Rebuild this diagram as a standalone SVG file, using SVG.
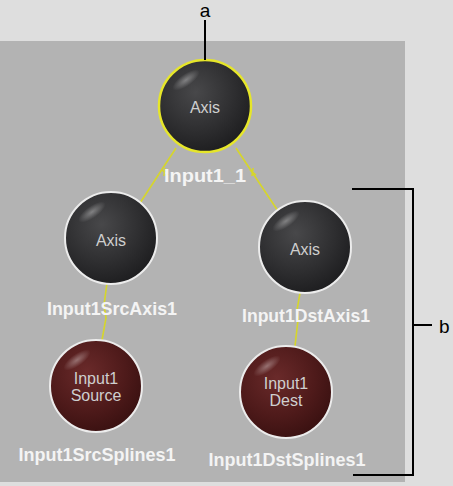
<svg xmlns="http://www.w3.org/2000/svg" width="453" height="486" viewBox="0 0 453 486">
<defs>
<radialGradient id="gDark" cx="0.4" cy="0.35" r="0.7">
<stop offset="0" stop-color="#48484a"/>
<stop offset="0.6" stop-color="#2e2e30"/>
<stop offset="1" stop-color="#1c1c1e"/>
</radialGradient>
<radialGradient id="gRed" cx="0.4" cy="0.35" r="0.7">
<stop offset="0" stop-color="#6a2a2a"/>
<stop offset="0.6" stop-color="#4e1a1a"/>
<stop offset="1" stop-color="#381010"/>
</radialGradient>
<radialGradient id="gHi" cx="0.5" cy="0.5" r="0.5">
<stop offset="0" stop-color="#ffffff" stop-opacity="0.35"/>
<stop offset="1" stop-color="#ffffff" stop-opacity="0"/>
</radialGradient>
<style>
.ball{stroke:#ececec;stroke-width:2}
.sel{stroke:#e6e62a;stroke-width:2.5}
.in{font-family:"Liberation Sans",Arial,sans-serif;font-size:16px;fill:#cfcfcf;text-anchor:middle}
.lbl{font-family:"Liberation Sans",Arial,sans-serif;font-size:18px;font-weight:bold;fill:#f4f4f4;text-anchor:middle}
.conn{stroke:#d6d62a;stroke-width:1.6;fill:none}
.call{stroke:#000;stroke-width:2;fill:none}
.ct{font-family:"Liberation Sans",Arial,sans-serif;font-size:19px;fill:#000}
</style>
</defs>
<rect x="0" y="0" width="453" height="486" fill="#dedede"/>
<rect x="0" y="41" width="405" height="441" fill="#b3b3b3"/>
<g id="connectors">
<line class="conn" x1="176" y1="148" x2="140" y2="203"/>
<line class="conn" x1="236" y1="148" x2="278" y2="211"/>
<path class="conn" d="M162,170 l6,5 M165,168 l-1,8"/>
<path class="conn" d="M250,170 l6,5 M253,168 l-1,8"/>
<path class="conn" d="M107,283 L104,305 L106,318 L102,340"/>
<path class="conn" d="M300,293 L297,310 L298,320 L295,346"/>
</g>
<g id="node-axis-top">
<circle class="ball sel" cx="205" cy="106" r="46" fill="url(#gDark)"/>
<ellipse cx="186" cy="80" rx="16" ry="6" fill="url(#gHi)" transform="rotate(-35 186 80)"/>
<text class="in" x="205" y="113">Axis</text>
<text class="lbl" x="205" y="182" textLength="82" lengthAdjust="spacingAndGlyphs">Input1_1</text>
</g>
<g id="node-axis-src">
<circle class="ball" cx="111" cy="238" r="46" fill="url(#gDark)"/>
<ellipse cx="92" cy="212" rx="16" ry="6" fill="url(#gHi)" transform="rotate(-35 92 212)"/>
<text class="in" x="111" y="246">Axis</text>
<text class="lbl" x="112" y="315" textLength="130" lengthAdjust="spacingAndGlyphs">Input1SrcAxis1</text>
</g>
<g id="node-axis-dst">
<circle class="ball" cx="305" cy="247" r="46" fill="url(#gDark)"/>
<ellipse cx="286" cy="221" rx="16" ry="6" fill="url(#gHi)" transform="rotate(-35 286 221)"/>
<text class="in" x="305" y="255">Axis</text>
<text class="lbl" x="306" y="322" textLength="128" lengthAdjust="spacingAndGlyphs">Input1DstAxis1</text>
</g>
<g id="node-source">
<circle class="ball" cx="96" cy="386" r="46" fill="url(#gRed)"/>
<ellipse cx="77" cy="360" rx="16" ry="6" fill="url(#gHi)" transform="rotate(-35 77 360)"/>
<text class="in" x="96" y="384">Input1</text>
<text class="in" x="96" y="401">Source</text>
<text class="lbl" x="97" y="461" textLength="157" lengthAdjust="spacingAndGlyphs">Input1SrcSplines1</text>
</g>
<g id="node-dest">
<circle class="ball" cx="286" cy="392" r="46" fill="url(#gRed)"/>
<ellipse cx="267" cy="366" rx="16" ry="6" fill="url(#gHi)" transform="rotate(-35 267 366)"/>
<text class="in" x="286" y="389">Input1</text>
<text class="in" x="286" y="406">Dest</text>
<text class="lbl" x="287" y="466" textLength="157" lengthAdjust="spacingAndGlyphs">Input1DstSplines1</text>
</g>
<g id="callout-a">
<line class="call" x1="205" y1="20" x2="205" y2="60"/>
<text class="ct" x="205" y="17" text-anchor="middle">a</text>
</g>
<g id="callout-b">
<path class="call" d="M352,189 H413 V475 H353 M413,325 H432"/>
<text class="ct" x="439" y="333">b</text>
</g>
</svg>
